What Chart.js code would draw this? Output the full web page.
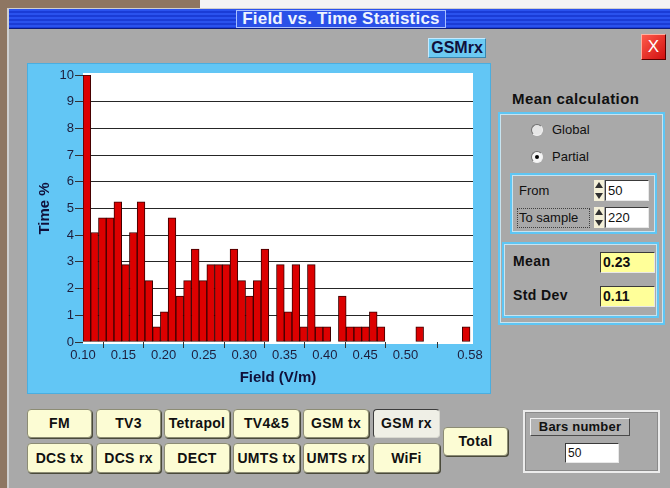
<!DOCTYPE html>
<html>
<head>
<meta charset="utf-8">
<script src="https://cdn.jsdelivr.net/npm/chart.js@4"></script>
<style>
  body { margin: 0; width: 670px; height: 488px; overflow: hidden; position: relative;
         background: #a9a9a9; font-family: "Liberation Sans", Arial, sans-serif; color: #101010; }
  .a { position: absolute; box-sizing: border-box; }
  .btn { background: #fcfcd4; border: 1px solid #8c8c74; border-radius: 4px;
         box-shadow: 1px 1px 0 #4a4a3a; font-weight: bold; font-size: 14px; text-align: center;
         letter-spacing: 0.3px; }
  .btn.down { background: #efefe6; border-color: #3c3c3c #d8d8d0 #d8d8d0 #3c3c3c; box-shadow: none; }
  .frame { border: 2px solid #5ec6f4; box-shadow: inset 0 0 0 1px #c8e4f0; }
  .inp { background: #fff; border: 1px solid; border-color: #3a3a3a #e8e8e8 #e8e8e8 #3a3a3a;
         font-size: 13px; padding-left: 2px; }
  .yel { background: #ffff99; font-weight: bold; font-size: 14px; }
  .lbl { font-size: 13px; white-space: nowrap; }
  .b { font-weight: bold; font-size: 14px; letter-spacing: 0.4px; }
  .spin { background: #f4f0d8; }
  .up, .dn { position: absolute; left: 1px; width: 0; height: 0; border-left: 4px solid transparent; border-right: 4px solid transparent; }
  .up { top: 2px; border-bottom: 6px solid #303030; }
  .dn { bottom: 2px; border-top: 6px solid #303030; }
  .radio { border-radius: 50%; border: 1px solid; border-color: #707070 #f0f0f0 #f0f0f0 #707070; }
</style>
</head>
<body>
<!-- desktop behind the window -->
<div class="a" style="left:0;top:0;width:200px;height:8px;background:#8e7662"></div>
<div class="a" style="left:200px;top:0;width:470px;height:8px;background:#f4f4f4"></div>
<div class="a" style="left:0;top:0;width:7px;height:488px;background:#8e7662"></div>
<div class="a" style="left:7px;top:8px;width:2px;height:480px;background:#cfcfcf"></div>
<div class="a" style="left:7px;top:8px;width:663px;height:1px;background:#cfcfcf"></div>

<!-- title bar -->
<div class="a" style="left:9px;top:9px;width:661px;height:20px;
     background:repeating-linear-gradient(180deg,#2a52ee 0,#2a52ee 2px,#1a3cd6 2px,#1a3cd6 4px);
     border-bottom:1px solid #0c1c80"></div>
<div class="a" style="left:236px;top:10px;width:210px;height:18px;border:1px solid #a8c0ff;background:#2a50e8;
     color:#eef4ff;font-weight:bold;font-size:17px;line-height:16px;text-align:center;letter-spacing:0.2px">Field vs. Time Statistics</div>

<!-- header widgets -->
<div class="a" style="left:428px;top:38px;width:58px;height:20px;background:#6ccaf2;border:1px solid;
     border-color:#c4eaff #3a88b0 #3a88b0 #c4eaff;color:#10103c;font-weight:bold;font-size:16px;line-height:18px;text-align:center">GSMrx</div>
<div class="a" style="left:641px;top:34px;width:25px;height:26px;background:linear-gradient(135deg,#ff5a4a,#d01010);
     border:1px solid;border-color:#ffb0a0 #5a0000 #5a0000 #ffb0a0;color:#fff;font-size:17px;line-height:24px;text-align:center">X</div>

<!-- chart panel -->
<div class="a" style="left:27px;top:63px;width:464px;height:331px;background:#62c6f5;border:1px solid #4aaee0"></div>
<div class="a" style="left:27px;top:63px;width:464px;height:331px">
  <canvas id="chart" width="464" height="331"></canvas>
</div>

<!-- mean calculation -->
<div class="a lbl b" style="left:512px;top:90px;font-size:15px">Mean calculation</div>
<div class="a frame" style="left:498px;top:112px;width:167px;height:213px"></div>
<div class="a radio" style="left:531px;top:124px;width:12px;height:12px;background:#e6e6e6"></div>
<div class="a lbl" style="left:552px;top:122px">Global</div>
<div class="a radio" style="left:531px;top:151px;width:12px;height:12px;background:#f6f6f6"></div>
<div class="a" style="left:535px;top:155px;width:4px;height:4px;border-radius:50%;background:#000"></div>
<div class="a lbl" style="left:552px;top:149px">Partial</div>

<div class="a frame" style="left:510px;top:173px;width:147px;height:61px"></div>
<div class="a lbl" style="left:519px;top:183px">From</div>
<div class="a spin" style="left:594px;top:180px;width:10px;height:21px"><div class="up"></div><div class="dn"></div></div>
<div class="a inp" style="left:605px;top:180px;width:44px;height:21px;line-height:19px">50</div>
<div class="a lbl" style="left:517px;top:208px;width:73px;height:20px;border:1px dotted #404040;line-height:18px;padding-left:1px">To sample</div>
<div class="a spin" style="left:594px;top:207px;width:10px;height:21px"><div class="up"></div><div class="dn"></div></div>
<div class="a inp" style="left:605px;top:207px;width:44px;height:21px;line-height:19px">220</div>

<div class="a frame" style="left:502px;top:242px;width:157px;height:76px"></div>
<div class="a lbl b" style="left:513px;top:253px">Mean</div>
<div class="a inp yel" style="left:600px;top:252px;width:55px;height:21px;line-height:19px">0.23</div>
<div class="a lbl b" style="left:513px;top:287px">Std Dev</div>
<div class="a inp yel" style="left:600px;top:286px;width:55px;height:21px;line-height:19px">0.11</div>

<!-- source buttons -->
<div class="a btn" style="left:27px;top:409px;width:65px;height:29px;line-height:27px">FM</div>
<div class="a btn" style="left:96px;top:409px;width:65px;height:29px;line-height:27px">TV3</div>
<div class="a btn" style="left:164px;top:409px;width:66px;height:29px;line-height:27px">Tetrapol</div>
<div class="a btn" style="left:233px;top:409px;width:67px;height:29px;line-height:27px">TV4&amp;5</div>
<div class="a btn" style="left:303px;top:409px;width:66px;height:29px;line-height:27px">GSM tx</div>
<div class="a btn down" style="left:373px;top:409px;width:67px;height:29px;line-height:27px">GSM rx</div>
<div class="a btn" style="left:27px;top:443px;width:65px;height:30px;line-height:28px">DCS tx</div>
<div class="a btn" style="left:96px;top:443px;width:65px;height:30px;line-height:28px">DCS rx</div>
<div class="a btn" style="left:164px;top:443px;width:66px;height:30px;line-height:28px">DECT</div>
<div class="a btn" style="left:233px;top:443px;width:67px;height:30px;line-height:28px">UMTS tx</div>
<div class="a btn" style="left:303px;top:443px;width:66px;height:30px;line-height:28px">UMTS rx</div>
<div class="a btn" style="left:373px;top:443px;width:67px;height:30px;line-height:28px">WiFi</div>
<div class="a btn" style="left:443px;top:427px;width:65px;height:29px;line-height:27px">Total</div>

<!-- bars number -->
<div class="a" style="left:523px;top:410px;width:137px;height:63px;border:2px solid #ececec;box-shadow:inset 0 0 0 1px #8a8a8a"></div>
<div class="a lbl b" style="left:530px;top:418px;width:100px;height:18px;background:#b2b2b2;border:1px solid;
     border-color:#f0f0f0 #4a4a4a #4a4a4a #f0f0f0;line-height:16px;text-align:center;font-size:13px;letter-spacing:0.2px">Bars number</div>
<div class="a inp" style="left:565px;top:443px;width:54px;height:20px;line-height:18px;font-size:12px">50</div>

<script>
// bin centres (V/m), 50 bins of 0.0096 between 0.10 and 0.58
const fieldBins = [
  0.1048, 0.1144, 0.1240, 0.1336, 0.1432, 0.1528, 0.1624, 0.1720, 0.1816, 0.1912,
  0.2008, 0.2104, 0.2200, 0.2296, 0.2392, 0.2488, 0.2584, 0.2680, 0.2776, 0.2872,
  0.2968, 0.3064, 0.3160, 0.3256, 0.3352, 0.3448, 0.3544, 0.3640, 0.3736, 0.3832,
  0.3928, 0.4024, 0.4120, 0.4216, 0.4312, 0.4408, 0.4504, 0.4600, 0.4696, 0.4792,
  0.4888, 0.4984, 0.5080, 0.5176, 0.5272, 0.5368, 0.5464, 0.5560, 0.5656, 0.5752
];
// time % per bin
const timePct = [
  10.0, 4.1, 4.65, 4.65, 5.25, 2.9, 4.1, 5.25, 2.3, 0.57,
  1.13, 4.65, 1.72, 2.3, 3.48, 2.3, 2.9, 2.9, 2.9, 3.48,
  2.3, 1.72, 2.3, 3.48, 0, 2.9, 1.13, 2.9, 0.57, 2.9,
  0.57, 0.57, 0, 1.72, 0.57, 0.57, 0.57, 1.13, 0.57, 0,
  0, 0, 0, 0.57, 0, 0, 0, 0, 0, 0.57
];
const xTicks = [0.10, 0.15, 0.20, 0.25, 0.30, 0.35, 0.40, 0.45, 0.50, 0.58];
const yTicks = [0, 1, 2, 3, 4, 5, 6, 7, 8, 9, 10];

const tickFont = { family: "Liberation Sans, Arial", size: 13 };
const titleFont = { family: "Liberation Sans, Arial", size: 15, weight: "bold" };

// white plotting area
const plotBg = {
  id: "plotBg",
  beforeDraw(chart) {
    const a = chart.chartArea, c = chart.ctx;
    c.save();
    c.fillStyle = "#ffffff";
    c.fillRect(a.left, a.top - 2, a.right - a.left, a.bottom - a.top + 4);
    c.restore();
  }
};

new Chart(document.getElementById("chart"), {
  type: "bar",
  data: {
    datasets: [{
      data: fieldBins.map((x, i) => ({ x: x, y: timePct[i] })),
      backgroundColor: "#dc0000",
      borderColor: "#3c0000",
      borderWidth: 1,
      borderSkipped: false,
      barPercentage: 1,
      categoryPercentage: 1
    }]
  },
  options: {
    responsive: false,
    animation: false,
    devicePixelRatio: 1,
    layout: { padding: { top: 12, right: 18, left: 0, bottom: 0 } },
    plugins: { legend: { display: false }, tooltip: { enabled: false } },
    scales: {
      x: {
        type: "linear",
        offset: false,
        min: 0.10,
        max: 0.5837,
        afterBuildTicks: s => { s.ticks = xTicks.map(v => ({ value: v })); },
        afterFit: s => { s.height = 52; },
        ticks: { font: tickFont, color: "#1e1e3c", padding: 0, maxRotation: 0, autoSkip: false,
                 callback: v => v.toFixed(2) },
        grid: { drawOnChartArea: false, tickLength: 6, color: "#333", tickColor: "#333" },
        border: { display: false },
        title: { display: true, text: "Field (V/m)", font: titleFont, color: "#10103a",
                 padding: { top: 2, bottom: 7 } }
      },
      y: {
        min: 0,
        max: 10,
        afterBuildTicks: s => { s.ticks = yTicks.map(v => ({ value: v })); },
        afterFit: s => { s.width = 56; },
        ticks: { font: tickFont, color: "#1e1e3c", padding: 1 },
        grid: {
          tickLength: 8,
          color: c => (c.tick && (c.tick.value === 0 || c.tick.value === 10)) ? "rgba(0,0,0,0)" : "#262626",
          tickColor: "#333"
        },
        border: { display: false },
        title: { display: true, text: "Time %", font: titleFont, color: "#10103a",
                 padding: { top: 9, bottom: 0 } }
      }
    }
  },
  plugins: [plotBg]
});
</script>
</body>
</html>
